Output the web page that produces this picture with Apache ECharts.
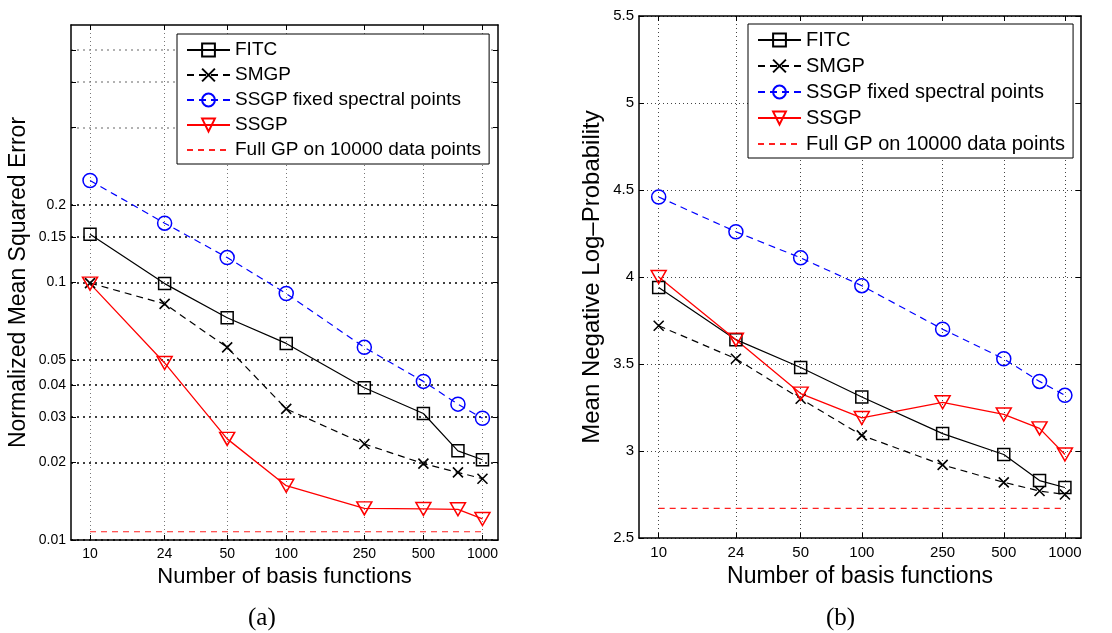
<!DOCTYPE html>
<html>
<head>
<meta charset="utf-8">
<title>FITC / SMGP / SSGP vs number of basis functions</title>
<script src="https://cdn.jsdelivr.net/npm/echarts@6/dist/echarts.min.js"></script>
<style>
  html, body { margin: 0; padding: 0; background: #fff; }
  #chart { width: 1112px; height: 633px; }
</style>
</head>
<body>
<div id="chart"></div>
<script>
var basis = [10, 24, 50, 100, 250, 500, 750, 1000];
var xTicks = [10, 24, 50, 100, 250, 500, 1000];
var names = ['FITC', 'SMGP', 'SSGP fixed spectral points', 'SSGP', 'Full GP on 10000 data points'];

// (a) normalized mean squared error
var mseFitc = [0.154, 0.099, 0.073, 0.058, 0.039, 0.031, 0.0222, 0.0205];
var mseSmgp = [0.0995, 0.0826, 0.056, 0.0323, 0.0236, 0.0198, 0.0183, 0.0173];
var mseFixed = [0.249, 0.170, 0.125, 0.0906, 0.056, 0.0413, 0.0337, 0.0297];
var mseSsgp = [0.099, 0.0487, 0.0247, 0.01625, 0.01327, 0.0132, 0.01316, 0.01207];
var mseFullGp = 0.01077;
var mseTicks = [0.01, 0.02, 0.03, 0.04, 0.05, 0.1, 0.15, 0.2, 0.4, 0.6, 0.8];
var mseLabels = [0.01, 0.02, 0.03, 0.04, 0.05, 0.1, 0.15, 0.2];

// (b) mean negative log-probability
var nlpFitc = [3.94, 3.64, 3.48, 3.31, 3.10, 2.98, 2.83, 2.79];
var nlpSmgp = [3.72, 3.53, 3.30, 3.09, 2.92, 2.82, 2.77, 2.75];
var nlpFixed = [4.46, 4.26, 4.11, 3.95, 3.70, 3.53, 3.40, 3.32];
var nlpSsgp = [4.00, 3.64, 3.33, 3.19, 3.28, 3.21, 3.13, 2.98];
var nlpFullGp = 2.67;

var font = 'Liberation Sans, Arial, sans-serif';
var clear = 'rgba(0,0,0,0)';

function pairs(ys) {
    return basis.map(function (b, i) { return [b, ys[i]]; });
}

function makeSeries(xi, yi, fitc, smgp, fixed, ssgp, full) {
    return [{
        name: names[0], type: 'line', xAxisIndex: xi, yAxisIndex: yi, data: pairs(fitc),
        symbol: 'rect', symbolSize: 12,
        lineStyle: { color: '#000', width: 1.2 },
        itemStyle: { color: clear, borderColor: '#000', borderWidth: 1.5 }
    }, {
        name: names[1], type: 'line', xAxisIndex: xi, yAxisIndex: yi, data: pairs(smgp),
        symbol: 'path://M0,0L10,10M0,10L10,0', symbolSize: 10,
        lineStyle: { color: '#000', width: 1.2, type: [7, 5] },
        itemStyle: { color: clear, borderColor: '#000', borderWidth: 1.6 }
    }, {
        name: names[2], type: 'line', xAxisIndex: xi, yAxisIndex: yi, data: pairs(fixed),
        symbol: 'circle', symbolSize: 14,
        lineStyle: { color: '#0000ff', width: 1.2, type: [7, 5] },
        itemStyle: { color: clear, borderColor: '#0000ff', borderWidth: 1.5 }
    }, {
        name: names[3], type: 'line', xAxisIndex: xi, yAxisIndex: yi, data: pairs(ssgp),
        symbol: 'path://M0,0L16,0L8,14Z', symbolSize: [15, 13],
        lineStyle: { color: '#ff0000', width: 1.3 },
        itemStyle: { color: clear, borderColor: '#ff0000', borderWidth: 1.5 }
    }, {
        name: names[4], type: 'line', xAxisIndex: xi, yAxisIndex: yi,
        data: [[basis[0], full], [basis[basis.length - 1], full]],
        symbol: 'none',
        lineStyle: { color: '#ff2020', width: 1.1, type: [6, 5] },
        itemStyle: { color: clear, borderColor: clear, borderWidth: 0 }
    }];
}

function xAxisPair(grid) {
    var base = {
        type: 'log', gridIndex: grid, min: 8, max: 1200,
        axisLine: { show: true, onZero: false, lineStyle: { color: '#000', width: 1.5 } }
    };
    return [
        Object.assign({}, base, {
            position: 'bottom',
            name: 'Number of basis functions', nameLocation: 'middle', nameGap: 24,
            nameTextStyle: { fontFamily: font, fontSize: grid ? 23 : 22, color: '#000' },
            axisTick: { show: true, inside: true, length: 5, customValues: xTicks, lineStyle: { color: '#000' } },
            axisLabel: { customValues: xTicks, margin: 7, fontFamily: font, fontSize: grid ? 15 : 14, color: '#000',
                formatter: function (v) { return String(v); } },
            splitLine: { show: true, lineStyle: { color: grid ? '#444' : '#777', width: 1, type: [1, 3] } }
        }),
        Object.assign({}, base, {
            position: 'top',
            axisTick: { show: true, inside: true, length: 5, customValues: xTicks, lineStyle: { color: '#000' } },
            axisLabel: { show: false },
            splitLine: { show: false }
        })
    ];
}

var mseLineColors = mseTicks.map(function (v) {
    return mseLabels.indexOf(v) >= 0 ? '#000' : '#999';
});

var yAxes = [{
    type: 'log', gridIndex: 0, position: 'left', min: 0.01, max: 1,
    name: 'Normalized Mean Squared Error', nameLocation: 'middle', nameGap: 41,
    nameTextStyle: { fontFamily: font, fontSize: 23, color: '#000' },
    axisLine: { show: true, onZero: false, lineStyle: { color: '#000', width: 1.5 } },
    axisTick: { show: true, inside: true, length: 5, customValues: mseTicks, lineStyle: { color: '#000' } },
    axisLabel: { customValues: mseLabels, margin: 5, fontFamily: font, fontSize: 14, color: '#000',
        formatter: function (v) { return String(v); } },
    splitLine: { show: true, lineStyle: { color: mseLineColors, width: 1.6, type: [2, 4] } }
}, {
    type: 'log', gridIndex: 0, position: 'right', min: 0.01, max: 1,
    axisLine: { show: true, onZero: false, lineStyle: { color: '#000', width: 1.5 } },
    axisTick: { show: true, inside: true, length: 5, customValues: mseTicks, lineStyle: { color: '#000' } },
    axisLabel: { show: false },
    splitLine: { show: false }
}, {
    type: 'value', gridIndex: 1, position: 'left', min: 2.5, max: 5.5, interval: 0.5,
    name: 'Mean Negative Log\u2013Probability', nameLocation: 'middle', nameGap: 35,
    nameTextStyle: { fontFamily: font, fontSize: 24, color: '#000' },
    axisLine: { show: true, onZero: false, lineStyle: { color: '#000', width: 1.5 } },
    axisTick: { show: true, inside: true, length: 5, lineStyle: { color: '#000' } },
    axisLabel: { margin: 5, fontFamily: font, fontSize: 15, color: '#000' },
    splitLine: { show: true, lineStyle: { color: '#444', width: 1, type: [1, 3] } }
}, {
    type: 'value', gridIndex: 1, position: 'right', min: 2.5, max: 5.5, interval: 0.5,
    axisLine: { show: true, onZero: false, lineStyle: { color: '#000', width: 1.5 } },
    axisTick: { show: true, inside: true, length: 5, lineStyle: { color: '#000' } },
    axisLabel: { show: false },
    splitLine: { show: false }
}];

function makeLegend(left, top, fontSize, gap) {
    return {
        left: left, top: top, orient: 'vertical', data: names, selectedMode: false,
        backgroundColor: '#fff', borderColor: '#000', borderWidth: 1, borderRadius: 0,
        padding: [6, 8, 4, 9], itemWidth: 43, itemHeight: 16, itemGap: gap,
        textStyle: { fontFamily: font, fontSize: fontSize, color: '#000', lineHeight: 20 }
    };
}

var chart = echarts.init(document.getElementById('chart'), null, { renderer: 'canvas' });
chart.setOption({
    backgroundColor: '#fff',
    animation: false,
    grid: [
        { left: 71, top: 25, width: 427, height: 515 },
        { left: 639, top: 16, width: 442, height: 522 }
    ],
    xAxis: xAxisPair(0).concat(xAxisPair(1)),
    yAxis: yAxes,
    legend: [makeLegend(177, 34, 19, 5), makeLegend(748, 24, 20, 6)],
    series: makeSeries(0, 0, mseFitc, mseSmgp, mseFixed, mseSsgp, mseFullGp)
        .concat(makeSeries(2, 2, nlpFitc, nlpSmgp, nlpFixed, nlpSsgp, nlpFullGp)),
    graphic: [
        { type: 'text', left: 248, top: 606, style: { text: '(a)', font: '25px "Liberation Serif", "Times New Roman", serif', fill: '#000' } },
        { type: 'text', left: 826, top: 606, style: { text: '(b)', font: '25px "Liberation Serif", "Times New Roman", serif', fill: '#000' } }
    ]
});
</script>
</body>
</html>
